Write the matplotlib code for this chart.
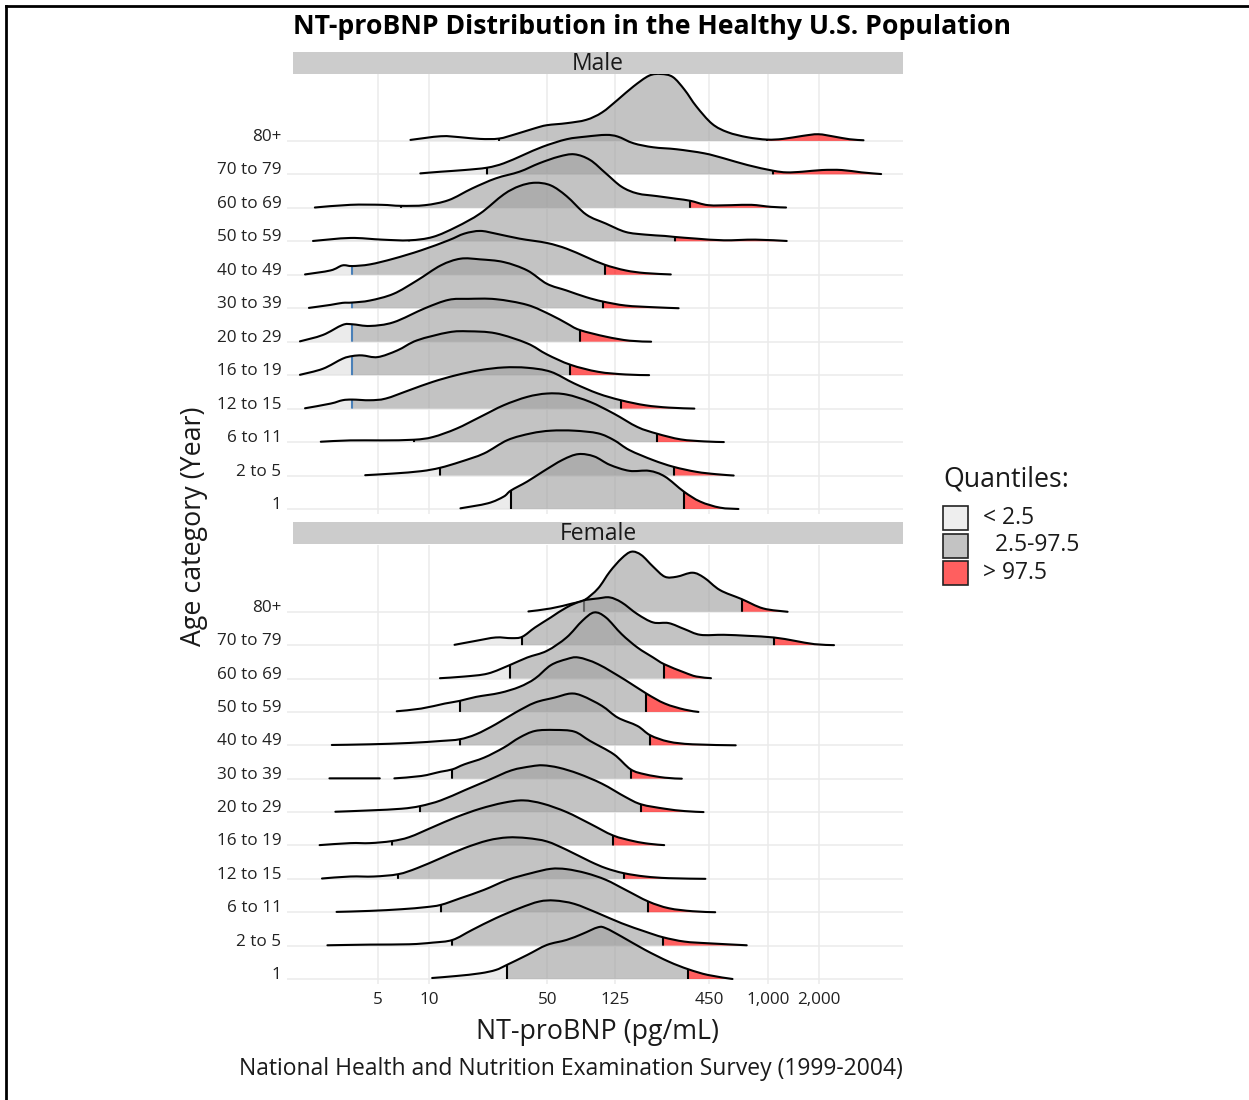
import numpy as np
import matplotlib
matplotlib.use('Agg')
from matplotlib import pyplot as plt
from matplotlib.path import Path
from matplotlib.patches import PathPatch, Rectangle
from matplotlib.lines import Line2D

plt.rcParams['font.family'] = ['Open Sans', 'DejaVu Sans']

# age groups, bottom row first
ages = ['1', '2 to 5', '6 to 11', '12 to 15', '16 to 19', '20 to 29',
        '30 to 39', '40 to 49', '50 to 59', '60 to 69', '70 to 79', '80+']

# ridge outlines: log10(NT-proBNP) and scaled density height
male_logx = [
    [1.186, 1.348, 1.441, 1.483, 1.580, 1.673, 1.789, 1.882, 1.975, 2.067, 2.183, 2.299, 2.392, 2.504, 2.601, 2.717, 2.826],
    [0.624, 0.791, 0.954, 1.065, 1.186, 1.325, 1.464, 1.603, 1.719, 1.858, 1.998, 2.091, 2.183, 2.323, 2.443, 2.578, 2.694, 2.798],
    [0.362, 0.536, 0.722, 0.912, 1.023, 1.162, 1.302, 1.441, 1.580, 1.696, 1.812, 1.951, 2.091, 2.230, 2.346, 2.485, 2.624, 2.740],
    [0.269, 0.420, 0.490, 0.548, 0.652, 0.745, 0.884, 1.023, 1.162, 1.302, 1.441, 1.580, 1.719, 1.858, 1.998, 2.132, 2.276, 2.415, 2.566],
    [0.239, 0.374, 0.490, 0.548, 0.606, 0.698, 0.814, 0.930, 1.116, 1.232, 1.394, 1.580, 1.696, 1.835, 1.998, 2.160, 2.299],
    [0.239, 0.374, 0.490, 0.548, 0.652, 0.791, 0.977, 1.116, 1.232, 1.394, 1.580, 1.719, 1.812, 1.889, 2.044, 2.183, 2.311],
    [0.292, 0.420, 0.490, 0.548, 0.652, 0.791, 0.930, 1.070, 1.186, 1.302, 1.441, 1.580, 1.696, 1.812, 1.928, 2.026, 2.160, 2.323, 2.473],
    [0.269, 0.420, 0.490, 0.548, 0.652, 0.791, 0.954, 1.116, 1.209, 1.302, 1.394, 1.534, 1.696, 1.812, 1.928, 2.037, 2.160, 2.276, 2.427],
    [0.316, 0.536, 0.722, 0.884, 1.023, 1.162, 1.302, 1.441, 1.534, 1.626, 1.719, 1.812, 1.928, 2.044, 2.160, 2.276, 2.392, 2.450, 2.578, 2.740, 2.926, 3.111],
    [0.327, 0.536, 0.722, 0.833, 0.977, 1.116, 1.255, 1.394, 1.534, 1.650, 1.766, 1.858, 1.951, 2.044, 2.137, 2.230, 2.346, 2.462, 2.543, 2.647, 2.786, 2.903, 3.018, 3.107],
    [0.949, 1.070, 1.209, 1.343, 1.441, 1.557, 1.673, 1.812, 1.928, 2.044, 2.114, 2.207, 2.323, 2.462, 2.624, 2.740, 2.879, 3.030, 3.111, 3.204, 3.320, 3.436, 3.552, 3.668],
    [0.891, 1.070, 1.186, 1.302, 1.413, 1.510, 1.626, 1.696, 1.812, 1.928, 2.021, 2.114, 2.207, 2.299, 2.369, 2.439, 2.508, 2.578, 2.671, 2.763, 2.879, 2.995, 3.088, 3.204, 3.297, 3.390, 3.482, 3.564],
]
male_h = [
    [0.02, 0.17, 0.37, 0.55, 0.82, 1.12, 1.47, 1.64, 1.57, 1.32, 1.14, 1.14, 0.97, 0.52, 0.22, 0.04, 0.0],
    [0.01, 0.06, 0.13, 0.23, 0.41, 0.66, 1.06, 1.26, 1.34, 1.34, 1.26, 1.06, 0.76, 0.46, 0.26, 0.11, 0.04, 0.0],
    [0.01, 0.05, 0.05, 0.07, 0.15, 0.40, 0.75, 1.10, 1.35, 1.45, 1.42, 1.20, 0.85, 0.45, 0.25, 0.08, 0.02, 0.0],
    [0.01, 0.15, 0.25, 0.27, 0.25, 0.30, 0.55, 0.80, 1.00, 1.15, 1.23, 1.22, 1.10, 0.75, 0.45, 0.25, 0.10, 0.03, 0.0],
    [0.01, 0.19, 0.49, 0.57, 0.59, 0.54, 0.74, 1.04, 1.28, 1.31, 1.25, 0.95, 0.62, 0.31, 0.10, 0.02, 0.0],
    [0.01, 0.20, 0.50, 0.52, 0.47, 0.58, 1.00, 1.25, 1.28, 1.27, 1.10, 0.80, 0.55, 0.35, 0.15, 0.03, 0.0],
    [0.01, 0.10, 0.16, 0.17, 0.23, 0.43, 0.83, 1.28, 1.48, 1.46, 1.38, 1.13, 0.73, 0.53, 0.33, 0.20, 0.08, 0.03, 0.0],
    [0.01, 0.13, 0.28, 0.26, 0.31, 0.48, 0.73, 1.03, 1.23, 1.31, 1.23, 1.08, 0.95, 0.78, 0.53, 0.30, 0.13, 0.05, 0.01],
    [0.01, 0.10, 0.05, 0.03, 0.13, 0.43, 0.83, 1.40, 1.65, 1.75, 1.67, 1.35, 0.80, 0.53, 0.28, 0.20, 0.16, 0.13, 0.08, 0.03, 0.05, 0.01],
    [0.01, 0.09, 0.09, 0.06, 0.08, 0.23, 0.58, 0.88, 1.08, 1.33, 1.53, 1.60, 1.43, 1.03, 0.63, 0.43, 0.35, 0.27, 0.21, 0.08, 0.08, 0.09, 0.03, 0.01],
    [0.03, 0.08, 0.13, 0.20, 0.33, 0.58, 0.83, 1.05, 1.13, 1.18, 1.13, 0.93, 0.81, 0.75, 0.63, 0.48, 0.28, 0.11, 0.06, 0.08, 0.13, 0.13, 0.06, 0.01],
    [0.03, 0.14, 0.11, 0.06, 0.07, 0.20, 0.38, 0.47, 0.53, 0.63, 0.85, 1.23, 1.63, 1.95, 2.00, 1.91, 1.53, 1.03, 0.51, 0.26, 0.11, 0.04, 0.06, 0.15, 0.20, 0.13, 0.05, 0.02],
]
male_q_lo = [1.483, 1.065, 0.912, 0.548, 0.548, 0.548, 0.548, 0.548, 0.884, 0.833, 1.343, 1.413]
male_q_hi = [2.504, 2.443, 2.346, 2.132, 1.835, 1.889, 2.026, 2.037, 2.450, 2.543, 3.030, 2.995]

female_logx = [
    [1.019, 1.162, 1.302, 1.394, 1.459, 1.580, 1.696, 1.812, 1.905, 1.998, 2.044, 2.137, 2.276, 2.415, 2.531, 2.647, 2.791],
    [0.401, 0.652, 0.884, 1.023, 1.139, 1.255, 1.394, 1.534, 1.650, 1.742, 1.858, 1.998, 2.137, 2.276, 2.381, 2.508, 2.647, 2.875],
    [0.455, 0.652, 0.838, 0.977, 1.070, 1.186, 1.325, 1.464, 1.603, 1.719, 1.812, 1.928, 2.044, 2.160, 2.295, 2.415, 2.555, 2.689],
    [0.369, 0.536, 0.675, 0.819, 0.930, 1.070, 1.209, 1.348, 1.464, 1.580, 1.696, 1.812, 1.951, 2.044, 2.149, 2.276, 2.415, 2.631],
    [0.355, 0.536, 0.652, 0.780, 0.884, 1.023, 1.162, 1.302, 1.441, 1.557, 1.673, 1.812, 1.951, 2.086, 2.207, 2.299, 2.388],
    [0.448, 0.652, 0.838, 0.949, 1.070, 1.209, 1.348, 1.487, 1.603, 1.673, 1.766, 1.882, 2.021, 2.160, 2.253, 2.392, 2.508, 2.620],
    [0.413, 0.710, None, 0.796, 0.954, 1.070, 1.139, 1.209, 1.325, 1.441, 1.534, 1.626, 1.742, 1.858, 1.951, 2.091, 2.190, 2.276, 2.392, 2.492],
    [0.427, 0.652, 0.884, 1.070, 1.181, 1.278, 1.394, 1.510, 1.626, 1.742, 1.835, 1.905, 2.021, 2.114, 2.230, 2.306, 2.415, 2.555, 2.810],
    [0.810, 0.954, 1.093, 1.181, 1.278, 1.418, 1.534, 1.626, 1.719, 1.812, 1.882, 1.998, 2.160, 2.283, 2.392, 2.508, 2.590],
    [1.065, 1.209, 1.348, 1.480, 1.580, 1.696, 1.812, 1.905, 1.975, 2.044, 2.137, 2.230, 2.323, 2.388, 2.508, 2.578, 2.664],
    [1.151, 1.278, 1.394, 1.487, 1.550, 1.626, 1.719, 1.812, 1.905, 1.998, 2.067, 2.137, 2.230, 2.323, 2.415, 2.508, 2.601, 2.740, 2.879, 3.035, 3.158, 3.274, 3.390],
    [1.587, 1.719, 1.847, 1.917, 1.998, 2.067, 2.137, 2.195, 2.253, 2.323, 2.392, 2.462, 2.555, 2.624, 2.717, 2.845, 2.972, 3.116],
]
female_h = [
    [0.03, 0.09, 0.17, 0.27, 0.42, 0.72, 1.02, 1.17, 1.35, 1.55, 1.52, 1.27, 0.87, 0.52, 0.29, 0.12, 0.0],
    [0.01, 0.03, 0.04, 0.09, 0.17, 0.47, 0.82, 1.12, 1.32, 1.35, 1.25, 0.97, 0.67, 0.42, 0.25, 0.12, 0.07, 0.01],
    [0.01, 0.04, 0.09, 0.15, 0.22, 0.42, 0.67, 0.97, 1.17, 1.30, 1.29, 1.17, 0.97, 0.67, 0.32, 0.12, 0.03, 0.0],
    [0.01, 0.07, 0.07, 0.14, 0.32, 0.62, 0.92, 1.15, 1.24, 1.22, 1.12, 0.87, 0.52, 0.32, 0.17, 0.07, 0.02, 0.0],
    [0.01, 0.07, 0.07, 0.13, 0.25, 0.55, 0.85, 1.10, 1.28, 1.35, 1.25, 1.00, 0.65, 0.30, 0.13, 0.05, 0.01],
    [0.01, 0.05, 0.10, 0.18, 0.35, 0.65, 0.95, 1.25, 1.37, 1.40, 1.33, 1.15, 0.85, 0.45, 0.23, 0.10, 0.03, 0.0],
    [0.01, 0.01, None, 0.01, 0.08, 0.21, 0.28, 0.43, 0.63, 0.93, 1.23, 1.43, 1.46, 1.41, 1.13, 0.73, 0.28, 0.13, 0.03, 0.0],
    [0.01, 0.03, 0.07, 0.13, 0.18, 0.33, 0.63, 0.98, 1.28, 1.43, 1.55, 1.48, 1.18, 0.83, 0.58, 0.30, 0.11, 0.03, 0.0],
    [0.02, 0.10, 0.25, 0.33, 0.45, 0.57, 0.75, 1.00, 1.40, 1.58, 1.63, 1.43, 0.95, 0.55, 0.25, 0.07, 0.0],
    [0.01, 0.06, 0.15, 0.41, 0.63, 0.83, 1.23, 1.73, 1.98, 1.83, 1.33, 0.93, 0.63, 0.43, 0.18, 0.06, 0.01],
    [0.01, 0.13, 0.23, 0.21, 0.25, 0.53, 0.83, 1.13, 1.33, 1.40, 1.43, 1.28, 0.93, 0.68, 0.66, 0.48, 0.31, 0.31, 0.28, 0.23, 0.13, 0.03, 0.0],
    [0.01, 0.10, 0.25, 0.35, 0.70, 1.20, 1.60, 1.80, 1.70, 1.35, 1.05, 1.05, 1.17, 1.02, 0.65, 0.38, 0.10, 0.0],
]
female_q_lo = [1.459, 1.139, 1.070, 0.819, 0.780, 0.949, 1.139, 1.181, 1.181, 1.480, 1.550, 1.917]
female_q_hi = [2.531, 2.381, 2.295, 2.149, 2.086, 2.253, 2.190, 2.306, 2.283, 2.388, 3.035, 2.845]

x_ticks = [5, 10, 50, 125, 450, 1000, 2000]
x_tick_labels = ['5', '10', '50', '125', '450', '1,000', '2,000']
quantile_labels = ['< 2.5', '  2.5-97.5', '> 97.5']
quantile_colors = ['#E0E0E0', '#A0A0A0', '#FF0000']
fill_alpha = 0.627
legend_face = ['#EEEEEE', '#C3C3C3', '#FF5F5F']


def segments(lx, h):
    out, cx, ch = [], [], []
    for a, b in zip(lx, h):
        if a is None:
            out.append((cx, ch))
            cx, ch = [], []
        else:
            cx.append(a)
            ch.append(b)
    out.append((cx, ch))
    return out


def curve(lx, h, base):
    # smooth curve through the read points (Catmull-Rom as cubic Bezier), in log10 space
    p = np.column_stack([lx, np.asarray(h, float) + base])
    n = len(p)
    verts = [p[0]]
    codes = [Path.MOVETO]
    for i in range(n - 1):
        p0, p1, p2, p3 = p[max(i - 1, 0)], p[i], p[i + 1], p[min(i + 2, n - 1)]
        c1 = p1 + (p2 - p0) / 6.0
        c2 = p2 - (p3 - p1) / 6.0
        c1[1] = max(c1[1], base)
        c2[1] = max(c2[1], base)
        verts += [c1, c2, p2.copy()]
        codes += [Path.CURVE4] * 3
    return np.array(verts), codes


def to_data(v):
    v = np.array(v, float)
    v[:, 0] = 10 ** v[:, 0]
    return v


def draw_panel(ax, logx, hs, q_lo, q_hi, jit_color):
    ax.set_xscale('log')
    ax.set_xlim(10 ** 0.198, 10 ** 3.797)
    ax.set_ylim(0.85, 14.0)
    for s in ax.spines.values():
        s.set_visible(False)
    for t in x_ticks:
        ax.axvline(t, color='#EBEBEB', lw=1.1, zorder=0)
    for k in range(len(ages)):
        ax.axhline(k + 1, color='#EBEBEB', lw=1.1, zorder=0)
    ax.set_xticks(x_ticks)
    ax.set_xticks([], minor=True)
    ax.set_yticks(range(1, len(ages) + 1))
    ax.set_yticklabels(ages)
    ax.tick_params(axis='y', length=4.3, width=1.1, color='#EBEBEB', pad=4,
                   labelsize=12.3, labelcolor='#222222')
    for lab in ax.get_yticklabels():
        lab.set_verticalalignment('baseline')
    ax.tick_params(axis='x', length=0, pad=6, labelsize=12.3, labelcolor='#222222')

    for k in range(len(ages) - 1, -1, -1):
        base = k + 1
        z = 2 + (len(ages) - k) * 3
        verts_all, codes_all, outlines = [], [], []
        for sx, sh in segments(logx[k], hs[k]):
            v, c = curve(sx, sh, base)
            outlines.append(Path(to_data(v), c))
            vv = np.vstack([v, [[sx[-1], base], [sx[0], base], [sx[0], base]]])
            cc = c + [Path.LINETO, Path.LINETO, Path.CLOSEPOLY]
            verts_all.append(vv)
            codes_all += cc
        area = Path(to_data(np.vstack(verts_all)), codes_all)
        bounds = [(-1, q_lo[k]), (q_lo[k], q_hi[k]), (q_hi[k], 5)]
        for (a, b), col in zip(bounds, quantile_colors):
            pp = PathPatch(area, facecolor=col, edgecolor='none', alpha=fill_alpha, zorder=z)
            clip = Rectangle((10 ** a, base - 0.5), 10 ** b - 10 ** a, 4,
                             transform=ax.transData)
            ax.add_patch(pp)
            pp.set_clip_path(clip)
        holder = PathPatch(area, transform=ax.transData)
        for q in (q_lo[k], q_hi[k]):
            col = jit_color if abs(q - 0.548) < 0.01 else 'black'
            ln = Line2D([10 ** q, 10 ** q], [base, base + 3], color=col, lw=1.5, zorder=z + 1)
            ax.add_line(ln)
            ln.set_clip_path(holder)
        for op in outlines:
            ax.add_patch(PathPatch(op, facecolor='none', edgecolor='black', lw=1.5,
                                   zorder=z + 2, capstyle='round', joinstyle='round'))


W, H = 1249, 1100
fig = plt.figure(figsize=(W / 100, H / 100), dpi=100)

ax_m = fig.add_axes([293 / W, 1 - 514 / H, 610 / W, 440 / H])
ax_f = fig.add_axes([293 / W, 1 - 984 / H, 610 / W, 439 / H])
draw_panel(ax_m, male_logx, male_h, male_q_lo, male_q_hi, '#4A80B8')
draw_panel(ax_f, female_logx, female_h, female_q_lo, female_q_hi, 'black')
ax_m.set_xticklabels([])
ax_f.set_xticklabels(x_tick_labels)

# facet strips
for top, name in [(52, 'Male'), (522, 'Female')]:
    fig.add_artist(Rectangle((293 / W, 1 - (top + 22) / H), 610 / W, 22 / H,
                             transform=fig.transFigure, facecolor='#CCCCCC', edgecolor='none'))
    fig.text(598 / W, 1 - (top + 11.5) / H, name, ha='center', va='center',
             fontsize=16.5, color='#1A1A1A')

fig.text(652 / W, 1 - 27 / H, 'NT-proBNP Distribution in the Healthy U.S. Population',
         ha='center', va='center', fontsize=19.2, fontweight='bold', color='black')
fig.text(598 / W, 1 - 1032 / H, 'NT-proBNP (pg/mL)', ha='center', va='center',
         fontsize=19.3, color='#1A1A1A')
fig.text(194 / W, 1 - 526 / H, 'Age category (Year)', ha='center', va='center',
         rotation=90, fontsize=19.3, color='#1A1A1A')
fig.text(903 / W, 1 - 1069 / H, 'National Health and Nutrition Examination Survey (1999-2004)',
         ha='right', va='center', fontsize=16.5, color='#1A1A1A')

# legend
fig.text(943 / W, 1 - 480 / H, 'Quantiles:', ha='left', va='center', fontsize=19.2, color='#1A1A1A')
for i, (lab, fc) in enumerate(zip(quantile_labels, legend_face)):
    top = 506 + i * 27.5
    fig.add_artist(Rectangle((943 / W, 1 - (top + 24) / H), 25 / W, 24 / H,
                             transform=fig.transFigure, facecolor=fc, edgecolor='#222222', lw=1.2))
    fig.text(983 / W, 1 - (top + 12) / H, lab, ha='left', va='center', fontsize=16.5, color='#1A1A1A')

# frame edges
fig.add_artist(Line2D([6 / W, 1], [1 - 6 / H, 1 - 6 / H], color='black', lw=2, transform=fig.transFigure))
fig.add_artist(Line2D([6 / W, 6 / W], [0, 1 - 6 / H], color='black', lw=2, transform=fig.transFigure))

fig.savefig('out.png', dpi=100, facecolor='white')
